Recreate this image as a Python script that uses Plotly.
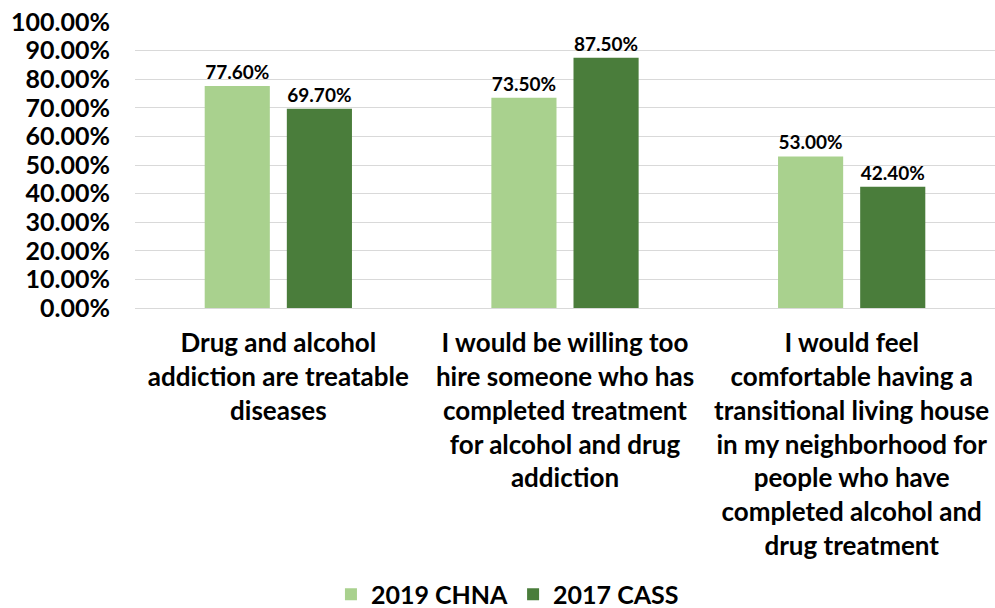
import plotly.graph_objects as go

categories = [
    "Drug and alcohol<br>addiction are treatable<br>diseases",
    "I would be willing too<br>hire someone who has<br>completed treatment<br>for alcohol and drug<br>addiction",
    "I would feel<br>comfortable having a<br>transitional living house<br>in my neighborhood for<br>people who have<br>completed alcohol and<br>drug treatment",
]
chna_2019 = [77.6, 73.5, 53.0]
cass_2017 = [69.7, 87.5, 42.4]
y_ticks = [0, 10, 20, 30, 40, 50, 60, 70, 80, 90, 100]
y_tick_labels = [f"{v:.2f}%" for v in y_ticks]

FONT = "Lato"
LIGHT = "#A9D18E"
DARK = "#4A7D3B"

fig = go.Figure()
for name, vals, color in [("2019 CHNA", chna_2019, LIGHT), ("2017 CASS", cass_2017, DARK)]:
    fig.add_trace(go.Bar(
        name=name, x=categories, y=vals,
        marker=dict(color=color, line=dict(width=0)),
        texttemplate="%{y:.2f}%", textposition="outside",
        textfont=dict(family=FONT, size=19, color="black", weight="bold"),
        cliponaxis=False,
    ))

fig.update_layout(
    width=995, height=608,
    margin=dict(l=135, r=0, t=22, b=300),
    plot_bgcolor="white", paper_bgcolor="white",
    barmode="group", bargap=0.427, bargroupgap=0.207,
    font=dict(family=FONT, color="black"),
    legend=dict(
        orientation="h", xref="container", yref="container",
        x=0.51, xanchor="center", y=0.022, yanchor="middle",
        font=dict(family=FONT, size=25, color="black", weight="bold"),
        itemwidth=30, traceorder="normal",
    ),
    showlegend=True,
)
fig.update_yaxes(
    range=[0, 100], tickvals=y_ticks, ticktext=y_tick_labels,
    showgrid=True, gridcolor="#D9D9D9", gridwidth=1,
    zeroline=False, showline=False,
    tickfont=dict(family=FONT, size=25, color="black", weight="bold"),
    ticklabelstandoff=24,
)
fig.update_xaxes(
    showline=True, linecolor="#D9D9D9", linewidth=1,
    tickfont=dict(family=FONT, size=26, color="black", weight="bold"),
    ticklabelstandoff=12,
)

fig.write_html("out.html")
